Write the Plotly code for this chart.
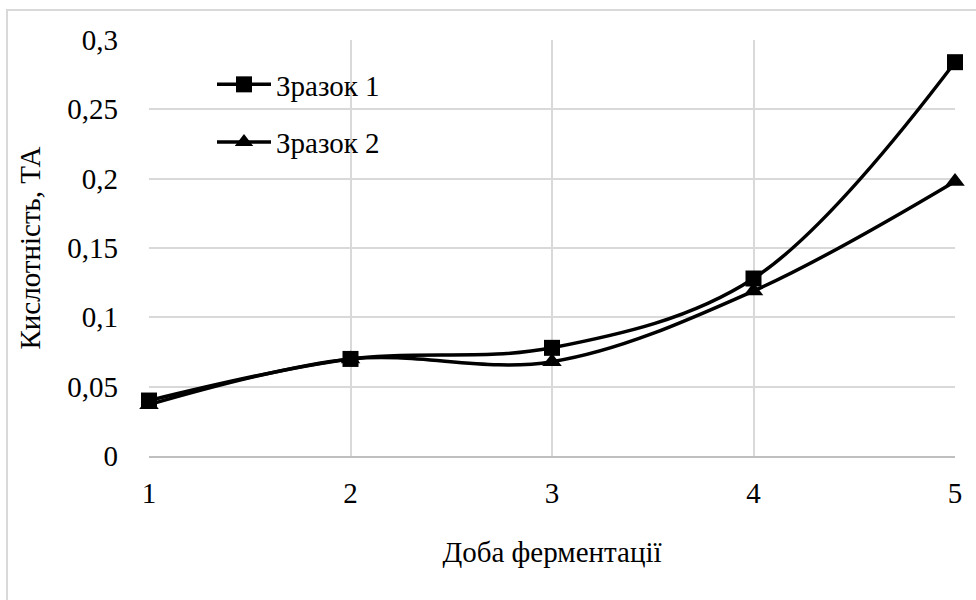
import plotly.graph_objects as go

days = [1, 2, 3, 4, 5]
sample1 = [0.040, 0.070, 0.078, 0.128, 0.284]
sample2 = [0.037, 0.070, 0.068, 0.119, 0.198]
y_ticks = [0, 0.05, 0.1, 0.15, 0.2, 0.25, 0.3]
y_tick_text = ["0", "0,05", "0,1", "0,15", "0,2", "0,25", "0,3"]

FONT = "'Times New Roman', 'Liberation Serif', serif"
FS = 29

fig = go.Figure()
fig.add_trace(go.Scatter(
    x=days, y=sample1, name="Зразок 1", mode="lines+markers",
    line=dict(color="black", width=3.5, shape="spline", smoothing=1),
    marker=dict(symbol="square", size=16, color="black"),
    cliponaxis=False, legendgroup="a",
))
fig.add_trace(go.Scatter(
    x=days, y=sample2, name="Зразок 2", mode="lines+markers",
    line=dict(color="black", width=3.5, shape="spline", smoothing=1),
    marker=dict(symbol="triangle-up", size=17, color="black"),
    cliponaxis=False, legendgroup="b",
))

# outer chart frame
fig.add_shape(type="rect", xref="paper", yref="paper",
              x0=(7 - 149) / 806, x1=(990 - 149) / 806,
              y0=(456 - 620) / 416, y1=(456 - 10) / 416,
              line=dict(color="#d9d9d9", width=2), layer="below")

fig.update_layout(
    width=976, height=600,
    margin=dict(l=149, r=21, t=40, b=144),
    paper_bgcolor="white", plot_bgcolor="white",
    font=dict(family=FONT, size=FS, color="black"),
    showlegend=True,
    legend=dict(
        x=(212 - 149) / 806, y=(456 - 59) / 416, xanchor="left", yanchor="top",
        bgcolor="rgba(0,0,0,0)", font=dict(size=FS, family=FONT),
        itemwidth=54, tracegroupgap=17, traceorder="grouped",
    ),
    xaxis=dict(
        range=[1, 5], tickvals=days, ticktext=[str(d) for d in days],
        showgrid=True, gridcolor="#d9d9d9", gridwidth=2,
        showline=True, linecolor="#bfbfbf", linewidth=2,
        zeroline=False, ticks="", ticklabelstandoff=10,
        title=dict(text="Доба ферментації", standoff=34,
                   font=dict(size=FS, family=FONT)),
    ),
    yaxis=dict(
        range=[0, 0.3], tickvals=y_ticks, ticktext=y_tick_text,
        showgrid=True, gridcolor="#d9d9d9", gridwidth=2,
        showline=False, zeroline=False, ticks="", ticklabelstandoff=30,
        title=dict(text="Кислотність, ТА", standoff=18,
                   font=dict(size=FS, family=FONT)),
    ),
)

fig.write_html("out.html")
